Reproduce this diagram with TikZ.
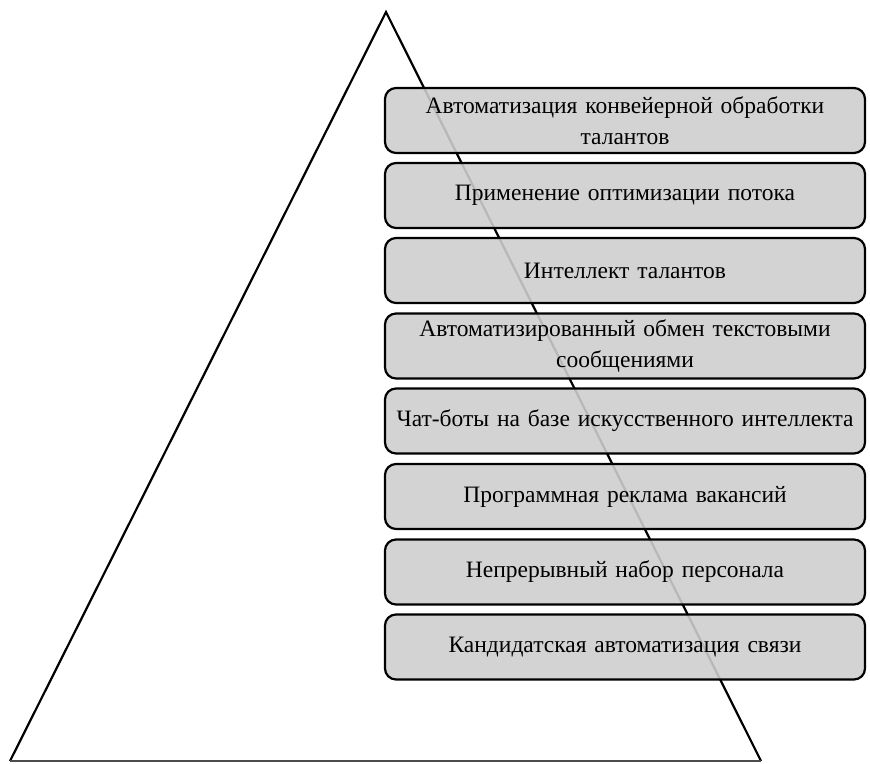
\documentclass[tikz,border=0pt]{standalone}
\usepackage{fontspec}
\setmainfont{Liberation Serif}
\definecolor{boxfill}{RGB}{206,206,206}
\begin{document}
\begin{tikzpicture}[x=1pt,y=-1pt,
  tier/.style={draw=black, line width=2.2pt, rounded corners=11pt, fill=boxfill, fill opacity=0.89, text opacity=1,
    minimum width=480pt, minimum height=65pt, text width=478pt, align=center,
    font=\fontsize{23.5}{31}\selectfont, inner sep=0pt}]
\useasboundingbox (0,0) rectangle (870,763);
\coordinate (apex) at (386,12);
\coordinate (bl) at (10,761);
\coordinate (br) at (761,761);
\draw[line width=2.2pt, line join=miter] (bl) -- (apex) -- (br);
\draw[line width=1.6pt, black!70] (bl) -- (br);
\node[tier] (t1) at (625,120.5) {Автоматизация конвейерной обработки\\талантов};
\node[tier] (t2) at (625,195.5) {Применение оптимизации потока};
\node[tier] (t3) at (625,270.5) {Интеллект талантов};
\node[tier] (t4) at (625,346) {Автоматизированный обмен текстовыми\\сообщениями};
\node[tier] (t5) at (625,421) {Чат-боты на базе искусственного интеллекта};
\node[tier] (t6) at (625,496.5) {Программная реклама вакансий};
\node[tier] (t7) at (625,572) {Непрерывный набор персонала};
\node[tier] (t8) at (625,647) {Кандидатская автоматизация связи};
\end{tikzpicture}
\end{document}
